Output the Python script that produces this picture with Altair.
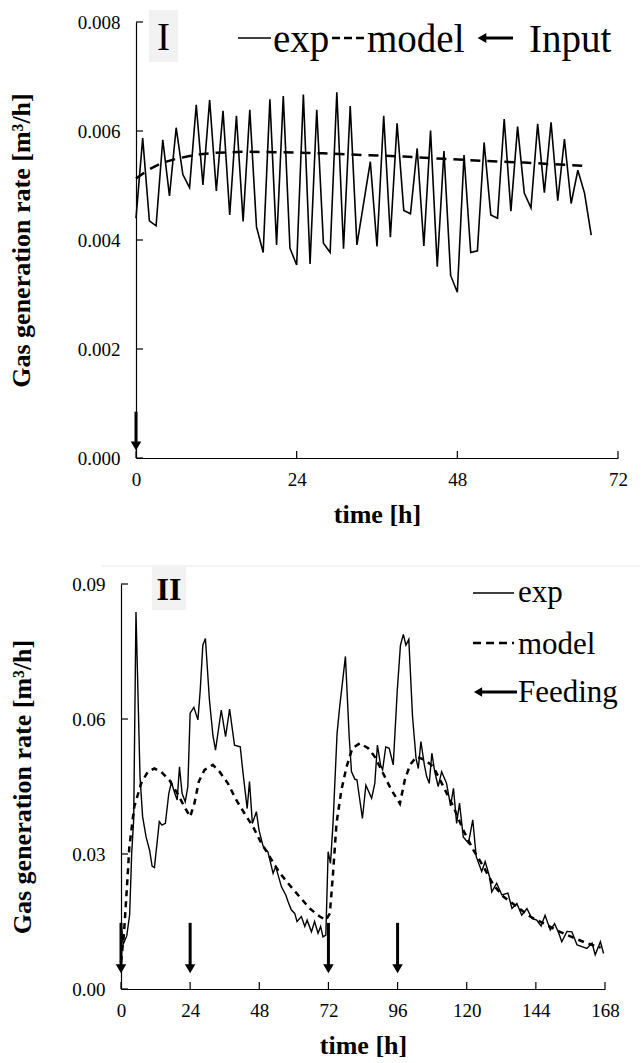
import altair as alt
import pandas as pd

FONT = "Liberation Serif"

# ---------------- Panel I data ----------------
top_exp_time = list(range(0, 34)) + list(range(35, 69))
top_exp_rate = [
    0.00440, 0.00587, 0.00435, 0.00426, 0.00584, 0.00481, 0.00606, 0.00520, 0.00496, 0.00648,
    0.00501, 0.00657, 0.00490, 0.00637, 0.00446, 0.00628, 0.00434, 0.00639, 0.00424, 0.00377,
    0.00658, 0.00391, 0.00664, 0.00385, 0.00354, 0.00667, 0.00356, 0.00639, 0.00394, 0.00377,
    0.00671, 0.00384, 0.00646, 0.00391,
    0.00544, 0.00388, 0.00628, 0.00405, 0.00614, 0.00454, 0.00448, 0.00568, 0.00389, 0.00601,
    0.00351, 0.00563, 0.00335, 0.00304, 0.00556, 0.00377, 0.00380, 0.00579, 0.00446, 0.00440,
    0.00622, 0.00453, 0.00608, 0.00486, 0.00459, 0.00613, 0.00487, 0.00616, 0.00472, 0.00585,
    0.00467, 0.00528, 0.00486, 0.00409,
]
top_model_time = [0, 2, 4, 6, 8, 10, 12, 16, 22, 28, 34, 40, 46, 52, 58, 64, 67]
top_model_rate = [0.00513, 0.00530, 0.00542, 0.00549, 0.00554, 0.00558, 0.00560, 0.00562,
                  0.00561, 0.00559, 0.00556, 0.00553, 0.00549, 0.00545, 0.00542, 0.00538, 0.00536]
top_input_time = [0]
top_arrow_from = [0.00085]
top_arrow_head = [0.00022]
top_yticks = [0.0, 0.002, 0.004, 0.006, 0.008]
top_xticks = [0, 24, 48, 72]
top_legend = ["exp", "model", "Input"]
top_label = "I"

# ---------------- Panel II data ----------------
bot_exp_time = [
    0, 0.8, 2.0, 3.0, 3.7, 4.4, 5.2, 6.6, 7.5, 8.7, 9.9, 10.8, 11.6, 13.3, 14.2, 15.4, 16.6,
    17.5, 18.6, 19.5, 20.3, 21.2, 22.3, 23.2, 24.0, 25.3, 26.7, 27.5, 28.4, 29.3, 30.7, 31.9,
    32.8, 34.8, 36.3, 37.7, 39.4, 41.4, 42.3, 43.8, 44.6, 45.6, 47.0, 47.9, 49.3, 51.0, 52.8,
    53.7, 55.7, 57.2, 58.0, 59.1, 60.3, 61.1, 62.6, 63.8, 64.6, 66.1, 67.2, 68.4, 69.3, 70.1,
    71.1, 71.9, 72.7, 73.6, 75.0, 75.9, 77.9, 79.2, 80.0, 81.2, 81.9, 83.8, 85.0, 87.0, 88.1,
    89.0, 90.1, 90.8, 91.9, 93.1, 94.5, 95.9, 97.0, 98.0, 98.9, 99.9, 101.2, 102.4, 103.2,
    104.1, 105.3, 106.1, 107.0, 107.9, 108.9, 110.1, 111.3, 113.0, 114.4, 115.4, 116.5, 117.5,
    118.8, 120.6, 122.1, 123.3, 125.2, 126.4, 127.9, 128.7, 130.4, 132.2, 134.3, 135.7, 137.4,
    139.1, 140.9, 142.6, 144.3, 145.8, 147.2, 149.0, 150.5, 151.9, 153.0, 154.8, 156.5, 158.3,
    160.0, 161.7, 163.5, 164.6, 166.4, 167.5,
]
bot_exp_rate = [
    0.0145, 0.0100, 0.0118, 0.0165, 0.0300, 0.0376, 0.0838, 0.0472, 0.0383, 0.0338, 0.0309,
    0.0273, 0.0270, 0.0372, 0.0364, 0.0368, 0.0435, 0.0459, 0.0436, 0.0420, 0.0494, 0.0435,
    0.0416, 0.0450, 0.0613, 0.0626, 0.0598, 0.0664, 0.0764, 0.0779, 0.0642, 0.0564, 0.0531,
    0.0620, 0.0561, 0.0622, 0.0542, 0.0538, 0.0483, 0.0401, 0.0461, 0.0368, 0.0394, 0.0353,
    0.0318, 0.0305, 0.0257, 0.0272, 0.0227, 0.0209, 0.0194, 0.0176, 0.0168, 0.0150, 0.0161,
    0.0139, 0.0153, 0.0127, 0.0150, 0.0124, 0.0139, 0.0116, 0.0120, 0.0305, 0.0279, 0.0368,
    0.0568, 0.0627, 0.0739, 0.0561, 0.0483, 0.0466, 0.0465, 0.0379, 0.0453, 0.0424, 0.0457,
    0.0542, 0.0498, 0.0487, 0.0538, 0.0535, 0.0498, 0.0664, 0.0764, 0.0788, 0.0764, 0.0777,
    0.0605, 0.0513, 0.0490, 0.0550, 0.0498, 0.0472, 0.0457, 0.0524, 0.0483, 0.0450, 0.0483,
    0.0457, 0.0407, 0.0446, 0.0368, 0.0413, 0.0338, 0.0324, 0.0376, 0.0294, 0.0261, 0.0283,
    0.0250, 0.0216, 0.0235, 0.0209, 0.0213, 0.0179, 0.0190, 0.0164, 0.0179, 0.0157, 0.0153,
    0.0140, 0.0164, 0.0131, 0.0145, 0.0125, 0.0105, 0.0128, 0.0127, 0.0098, 0.0094, 0.0090,
    0.0102, 0.0076, 0.0105, 0.0079,
]
bot_model_time = [
    0, 1, 2, 2.9, 4.6, 7, 9.3, 11.6, 13.9, 16.8, 19.7, 22, 24, 25.5, 27, 29, 31.9, 34.2,
    37.1, 40, 42.9, 45.8, 48.7, 51.6, 55.1, 58.5, 62, 65.5, 69, 71.1, 72.5, 73.6, 74.8,
    76.5, 78.3, 80.3, 82.9, 85.8, 88.1, 91, 93.9, 96.8, 98.5, 100.3, 102.6, 105.5, 108.4,
    111.9, 115.4, 118.8, 122.3, 125.8, 129.3, 132.8, 137.4, 142, 146.7, 152, 157, 162, 166.5,
]
bot_model_rate = [
    0.0060, 0.0120, 0.0220, 0.0316, 0.0405, 0.0457, 0.0483, 0.0490, 0.0483, 0.0464, 0.0433,
    0.0405, 0.0383, 0.0413, 0.0461, 0.0487, 0.0498, 0.0483, 0.0457, 0.0420, 0.0390, 0.0361,
    0.0324, 0.0294, 0.0258, 0.0231, 0.0205, 0.0179, 0.0161, 0.0153, 0.0168, 0.0257, 0.0368,
    0.0442, 0.0494, 0.0535, 0.0546, 0.0535, 0.0516, 0.0479, 0.0442, 0.0412, 0.0464, 0.0498,
    0.0516, 0.0509, 0.0494, 0.0450, 0.0405, 0.0353, 0.0309, 0.0272, 0.0231, 0.0205, 0.0183,
    0.0161, 0.0146, 0.0128, 0.0114, 0.0101, 0.0092,
]
bot_feed_time = [0, 24, 72, 96]
bot_arrow_from = [0.0147, 0.0147, 0.0147, 0.0147]
bot_arrow_head = [0.0045, 0.0045, 0.0045, 0.0045]
bot_yticks = [0.0, 0.03, 0.06, 0.09]
bot_xticks = [0, 24, 48, 72, 96, 120, 144, 168]
bot_legend = ["exp", "model", "Feeding"]
bot_label = "II"

Y_TITLE = "Gas generation rate [m³/h]"
X_TITLE = "time [h]"
one = pd.DataFrame({"k": [0]})


def panel(exp_t, exp_v, mod_t, mod_v, arr_t, arr_from, arr_head, yticks, xticks,
          xdom, ydom, x_off, w, h, yfmt, ytitle_pad, dash, exp_w, extras):
    xs = alt.Scale(domain=xdom, range=[x_off, x_off + w], nice=False, zero=False)
    ys = alt.Scale(domain=ydom, nice=False)
    xax = alt.Axis(values=xticks, title=X_TITLE, labelPadding=12, titlePadding=12,
                   format="d", labelFlush=False)
    yax = alt.Axis(values=yticks, title=Y_TITLE, format=yfmt, labelPadding=16,
                   titlePadding=ytitle_pad, offset=-x_off)
    X = alt.X("t:Q", scale=xs, axis=xax)
    Y = alt.Y("v:Q", scale=ys, axis=yax)

    exp_df = pd.DataFrame({"t": exp_t, "v": exp_v})
    mod_df = pd.DataFrame({"t": mod_t, "v": mod_v})
    arr_df = pd.DataFrame({"t": arr_t, "v": arr_from, "v2": arr_head})
    ytk = pd.DataFrame({"v": yticks})
    xtk = pd.DataFrame({"t": xticks})

    exp_line = alt.Chart(exp_df).mark_line(color="black", strokeWidth=exp_w).encode(x=X, y=Y)
    mod_line = alt.Chart(mod_df).mark_line(color="black", strokeWidth=2.5,
                                           strokeDash=dash).encode(x=X, y=Y)
    arr_rule = alt.Chart(arr_df).mark_rule(color="black", strokeWidth=3).encode(
        x=X, y=Y, y2="v2:Q")
    arr_head_m = alt.Chart(arr_df).mark_point(shape="triangle-down", filled=True,
                                              color="black", opacity=1, size=110).encode(
        x=X, y=alt.Y("v2:Q", scale=ys, axis=yax))
    ytick_m = alt.Chart(ytk).mark_rule(color="black", strokeWidth=1.2).encode(
        y=Y, x=alt.value(x_off), x2=alt.value(x_off + 7))
    xtick_m = alt.Chart(xtk).mark_rule(color="black", strokeWidth=1.2).encode(
        x=X, y=alt.value(h), y2=alt.value(h - 7))
    layers = extras[:1] + [exp_line, mod_line, arr_rule, arr_head_m, ytick_m, xtick_m] + extras[1:]
    return alt.layer(*layers).properties(width=x_off + w, height=h)


def txt(s, x, y, size, weight="normal", align="left"):
    return alt.Chart(one).mark_text(font=FONT, fontSize=size, fontWeight=weight,
                                    align=align, baseline="middle", color="black").encode(
        x=alt.value(x), y=alt.value(y), text=alt.value(s))


def hline(x1, x2, y, width=1.5, dash=None, color="black"):
    kw = dict(color=color, strokeWidth=width)
    if dash:
        kw["strokeDash"] = dash
    return alt.Chart(one).mark_rule(**kw).encode(x=alt.value(x1), x2=alt.value(x2), y=alt.value(y))


def left_head(x, y, size=90):
    return alt.Chart(one).mark_point(shape="triangle-left", filled=True, color="black",
                                     opacity=1, size=size).encode(x=alt.value(x), y=alt.value(y))


# ---- Panel I (plot area shifted 15 px right of panel II's) ----
TOFF, TW, TH = 15, 482, 436
top_box = alt.Chart(one).mark_rect(color="#f2f2f2").encode(
    x=alt.value(28), x2=alt.value(57), y=alt.value(-12), y2=alt.value(40))
top_extras = [
    top_box,
    txt(top_label, 42.5, 16, 39, align="center"),
    hline(117, 150, 16, 1.5),
    txt(top_legend[0], 152, 18, 39),
    hline(211, 243, 16, 2.5, [8, 4]),
    txt(top_legend[1], 246, 18, 39),
    hline(361, 392, 16, 3),
    left_head(361, 16, 100),
    txt(top_legend[2], 408, 18, 39),
]

top = panel(top_exp_time, top_exp_rate, top_model_time, top_model_rate, top_input_time,
            top_arrow_from, top_arrow_head, top_yticks, top_xticks, [0, 72], [0, 0.008],
            TOFF, TW, TH, ".3f", 43, [10, 7], 1.6, top_extras)

# ---- Panel II ----
BW, BH = 484, 405
bot_sep = hline(-20, 519, -18, 1.2, color="#e8e8e8")
bot_box = alt.Chart(one).mark_rect(color="#f2f2f2").encode(
    x=alt.value(31), x2=alt.value(65), y=alt.value(-17), y2=alt.value(26))
bot_extras = [
    bot_box,
    bot_sep,
    txt(bot_label, 48, 6, 32, weight="bold", align="center"),
    hline(352, 393, 9, 1.5),
    txt(bot_legend[0], 397, 9, 31),
    hline(352, 393, 59, 2.5, [8, 5]),
    txt(bot_legend[1], 397, 61, 31),
    hline(358, 396, 108, 3),
    left_head(357, 108, 90),
    txt(bot_legend[2], 397, 109, 31),
]

bottom = panel(bot_exp_time, bot_exp_rate, bot_model_time, bot_model_rate, bot_feed_time,
               bot_arrow_from, bot_arrow_head, bot_yticks, bot_xticks, [0, 168], [0, 0.09],
               0, BW, BH, ".2f", 36, [6, 5], 1.4, bot_extras)

chart = alt.vconcat(top, bottom, spacing=38).configure(
    font=FONT, padding={"left": 8, "top": 10, "right": 3, "bottom": 2}
).configure_view(stroke=None).configure_axis(
    labelFont=FONT, titleFont=FONT, labelFontSize=19, titleFontSize=26,
    titleFontWeight="bold", labelColor="black", titleColor="black",
    domainColor="black", domainWidth=1.2, ticks=False, tickSize=0, grid=False,
)

chart.save("out.html", embed_options={"renderer": "svg", "actions": False})
